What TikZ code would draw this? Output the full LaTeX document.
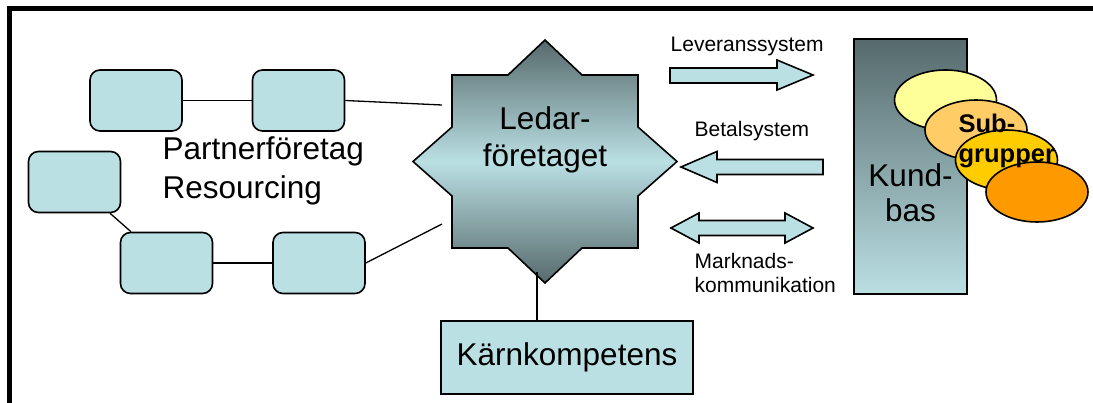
\documentclass[tikz,border=0pt]{standalone}
\usepackage{fontspec}
\setmainfont{Liberation Sans}
\usetikzlibrary{shapes.geometric}

\definecolor{boxfill}{RGB}{187,224,228}
\definecolor{stardark}{RGB}{86,106,108}
\definecolor{starlight}{RGB}{186,223,227}
\definecolor{grpyellow}{RGB}{255,255,153}
\definecolor{grplight}{RGB}{255,204,102}
\definecolor{grpgold}{RGB}{255,204,0}
\definecolor{grporange}{RGB}{255,153,0}

\begin{document}
\begin{tikzpicture}[
    x=1pt, y=-1pt,
    box/.style={draw, fill=boxfill, rounded corners=10pt, line width=1.6pt,
      minimum width=92pt, minimum height=61pt, inner sep=0pt},
    blockarrow/.style={draw, fill=boxfill, line width=1.6pt},
    group/.style={ellipse, draw, line width=1.6pt, minimum width=102pt,
      minimum height=60pt, inner sep=0pt},
    bigtext/.style={font=\fontsize{31.5}{38}\selectfont, inner sep=0pt},
    smalltext/.style={font=\fontsize{21}{24}\selectfont, inner sep=0pt},
    line width=1.3pt
  ]
  \useasboundingbox (0,0) rectangle (1093,403);

  % Frame
  \draw[line width=5.5pt] (9.5,403) -- (9.5,8.5) -- (1093,8.5);

  % Partner companies
  \node[box] (p1) at (136,100.5) {};
  \node[box] (p2) at (298.5,100.5) {};
  \node[box] (p3) at (74.5,182) {};
  \node[box] (p4) at (166.5,263) {};
  \node[box] (p5) at (319,263) {};
  \node[bigtext, align=left, anchor=base west] (part) at (162,199)
    {Partnerföretag\\[1pt]Resourcing};

  % Leading company (star)
  \draw[line width=1.6pt, top color=stardark, bottom color=stardark,
      middle color=starlight, shift={(545,161.5)}]
    (0,-121.5) -- (37,-86.5) -- (93,-86.5) -- (93,-34.5) -- (132,0)
    -- (93,34.5) -- (93,86.5) -- (37,86.5) -- (0,121.5) -- (-37,86.5)
    -- (-93,86.5) -- (-93,34.5) -- (-132,0) -- (-93,-34.5) -- (-93,-86.5)
    -- (-37,-86.5) -- cycle;
  \node[bigtext, align=center, anchor=base] (led) at (545,167)
    {Ledar-\\[-1pt]företaget};
  \coordinate (s1) at (442,105);
  \coordinate (s2) at (442,224);
  \coordinate (s3) at (537,272);

  % Core competence
  \node[draw, fill=boxfill, line width=1.6pt, minimum width=252pt,
      minimum height=73pt, bigtext] (kk) at (567,357.5) {Kärnkompetens};

  % Links
  \draw (p1) -- (p2);
  \draw (p2.east) -- (s1);
  \draw (p3) -- (p4);
  \draw (p4) -- (p5);
  \draw (p5.east) -- (s2);
  \draw (s3) -- (s3 |- kk.north);

  % Systems
  \node[smalltext, anchor=base west] (lev) at (670,52) {Leveranssystem};
  \draw[blockarrow] (670,68) -- (777,68) -- (777,60) -- (813,75)
    -- (777,90) -- (777,83) -- (670,83) -- cycle;
  \node[smalltext, anchor=base west] (bet) at (694,137) {Betalsystem};
  \draw[blockarrow] (823,159.5) -- (717,159.5) -- (717,151.5) -- (681,167)
    -- (717,182.5) -- (717,174.5) -- (823,174.5) -- cycle;
  \draw[blockarrow] (671,228) -- (699,213) -- (699,220.5) -- (785,220.5)
    -- (785,213) -- (813,228) -- (785,243) -- (785,235.5) -- (699,235.5)
    -- (699,243) -- cycle;
  \node[smalltext, align=left, anchor=base west] (mk) at (694,293)
    {Marknads-\\kommunikation};

  % Customer base
  \draw[line width=1.6pt, top color=stardark, bottom color=starlight]
    (854,39) rectangle (967,294);
  \node[bigtext, align=center, anchor=base] (kund) at (910.5,222)
    {Kund-\\[-3pt]bas};
  \node[group, fill=grpyellow] (g1) at (945.5,100) {};
  \node[group, fill=grplight] (g2) at (976,130) {};
  \node[group, fill=grpgold] (g3) at (1006.5,160) {};
  \node[group, fill=grporange] (g4) at (1037,192) {};
  \node[font=\bfseries\fontsize{25.5}{30}\selectfont, inner sep=0pt,
      align=left, anchor=base west] (sub) at (958,163) {Sub-\\grupper};
\end{tikzpicture}
\end{document}
